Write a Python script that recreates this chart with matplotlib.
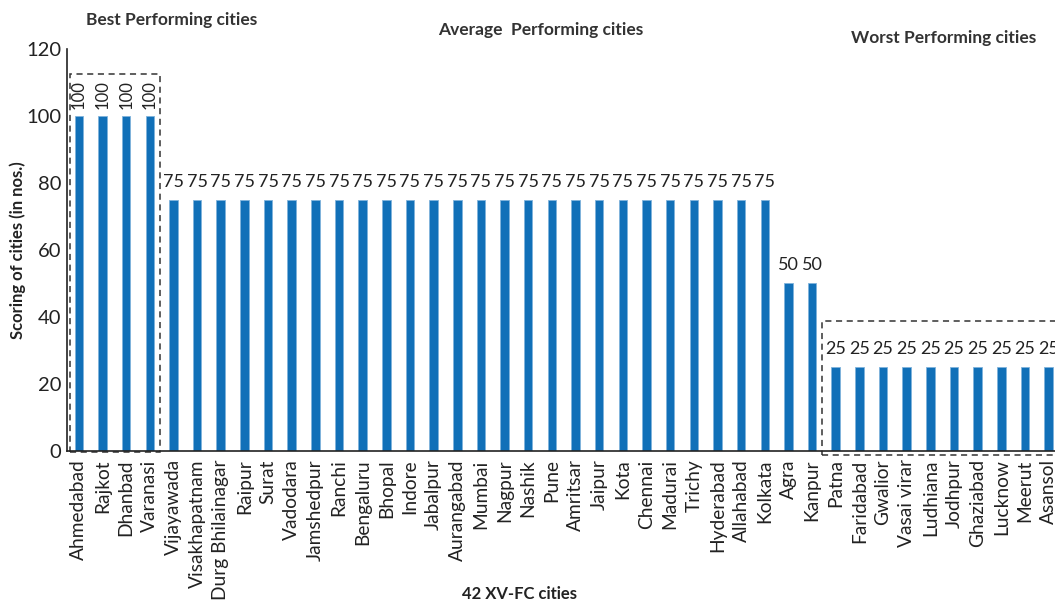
import matplotlib.pyplot as plt
from matplotlib.patches import Rectangle

plt.rcParams['font.family'] = ['Lato', 'DejaVu Sans']

cities = ['Ahmedabad', 'Rajkot', 'Dhanbad', 'Varanasi',
          'Vijayawada', 'Visakhapatnam', 'Durg Bhilainagar', 'Raipur', 'Surat',
          'Vadodara', 'Jamshedpur', 'Ranchi', 'Bengaluru', 'Bhopal', 'Indore',
          'Jabalpur', 'Aurangabad', 'Mumbai', 'Nagpur', 'Nashik', 'Pune',
          'Amritsar', 'Jaipur', 'Kota', 'Chennai', 'Madurai', 'Trichy',
          'Hyderabad', 'Allahabad', 'Kolkata',
          'Agra', 'Kanpur',
          'Patna', 'Faridabad', 'Gwalior', 'Vasai virar', 'Ludhiana', 'Jodhpur',
          'Ghaziabad', 'Lucknow', 'Meerut', 'Asansol']
scores = [100] * 4 + [75] * 26 + [50] * 2 + [25] * 10
yticks = [0, 20, 40, 60, 80, 100, 120]

bar_color = '#1170b8'
text_color = '#222222'

fig = plt.figure(figsize=(10.55, 6.04), dpi=100)
ax = fig.add_axes([0.0635, 0.2533, 0.9365, 0.6657])

x = list(range(len(cities)))
ax.bar(x, scores, width=0.36, color=bar_color, edgecolor='#7fb3dc', linewidth=0.6)

for xi, s in zip(x, scores):
    if s == 100:
        ax.text(xi, s + 2, str(s), rotation=90, ha='center', va='bottom',
                fontsize=12, color=text_color)
    else:
        ax.text(xi, s + 3, str(s), ha='center', va='bottom',
                fontsize=13, color=text_color, clip_on=False)

ax.set_xlim(-0.5, 41.27)
ax.set_ylim(0, 120)
ax.set_yticks(yticks)
ax.set_xticks(x)
ax.set_xticklabels(cities, rotation=90, color=text_color)
ax.tick_params(axis='both', length=0, colors=text_color)
ax.tick_params(axis='y', labelsize=14.5, pad=4)
ax.tick_params(axis='x', labelsize=13.8, pad=6)
for side in ['top', 'right']:
    ax.spines[side].set_visible(False)
for side in ['left', 'bottom']:
    ax.spines[side].set_color('#222222')
    ax.spines[side].set_linewidth(1.2)

fig.text(18 / 1055, 1 - 250 / 604, 'Scoring of cities (in nos.)', rotation=90,
         ha='center', va='center', fontsize=12, fontweight='bold', color=text_color)
fig.text(520 / 1055, 1 - 594 / 604, '42 XV-FC cities', ha='center', va='center',
         fontsize=12, fontweight='bold', color=text_color)

# dashed group boxes
ax.add_patch(Rectangle((-0.38, -0.4), 3.8, 112.9, fill=False, ls=(0, (4, 3)),
                       lw=1.1, ec='#333333', clip_on=False))
ax.add_patch(Rectangle((31.4, -1.2), 10.5, 40.0, fill=False, ls=(0, (4, 3)),
                       lw=1.1, ec='#333333', clip_on=False))

fig.text(172 / 1055, 1 - 20 / 604, 'Best Performing cities', ha='center', va='center',
         fontsize=12.5, fontweight='bold', color='#333333')
fig.text(541 / 1055, 1 - 30 / 604, 'Average  Performing cities', ha='center', va='center',
         fontsize=12.5, fontweight='bold', color='#333333')
fig.text(944 / 1055, 1 - 38 / 604, 'Worst Performing cities', ha='center', va='center',
         fontsize=12.5, fontweight='bold', color='#333333')

fig.savefig('out.png', dpi=100)
